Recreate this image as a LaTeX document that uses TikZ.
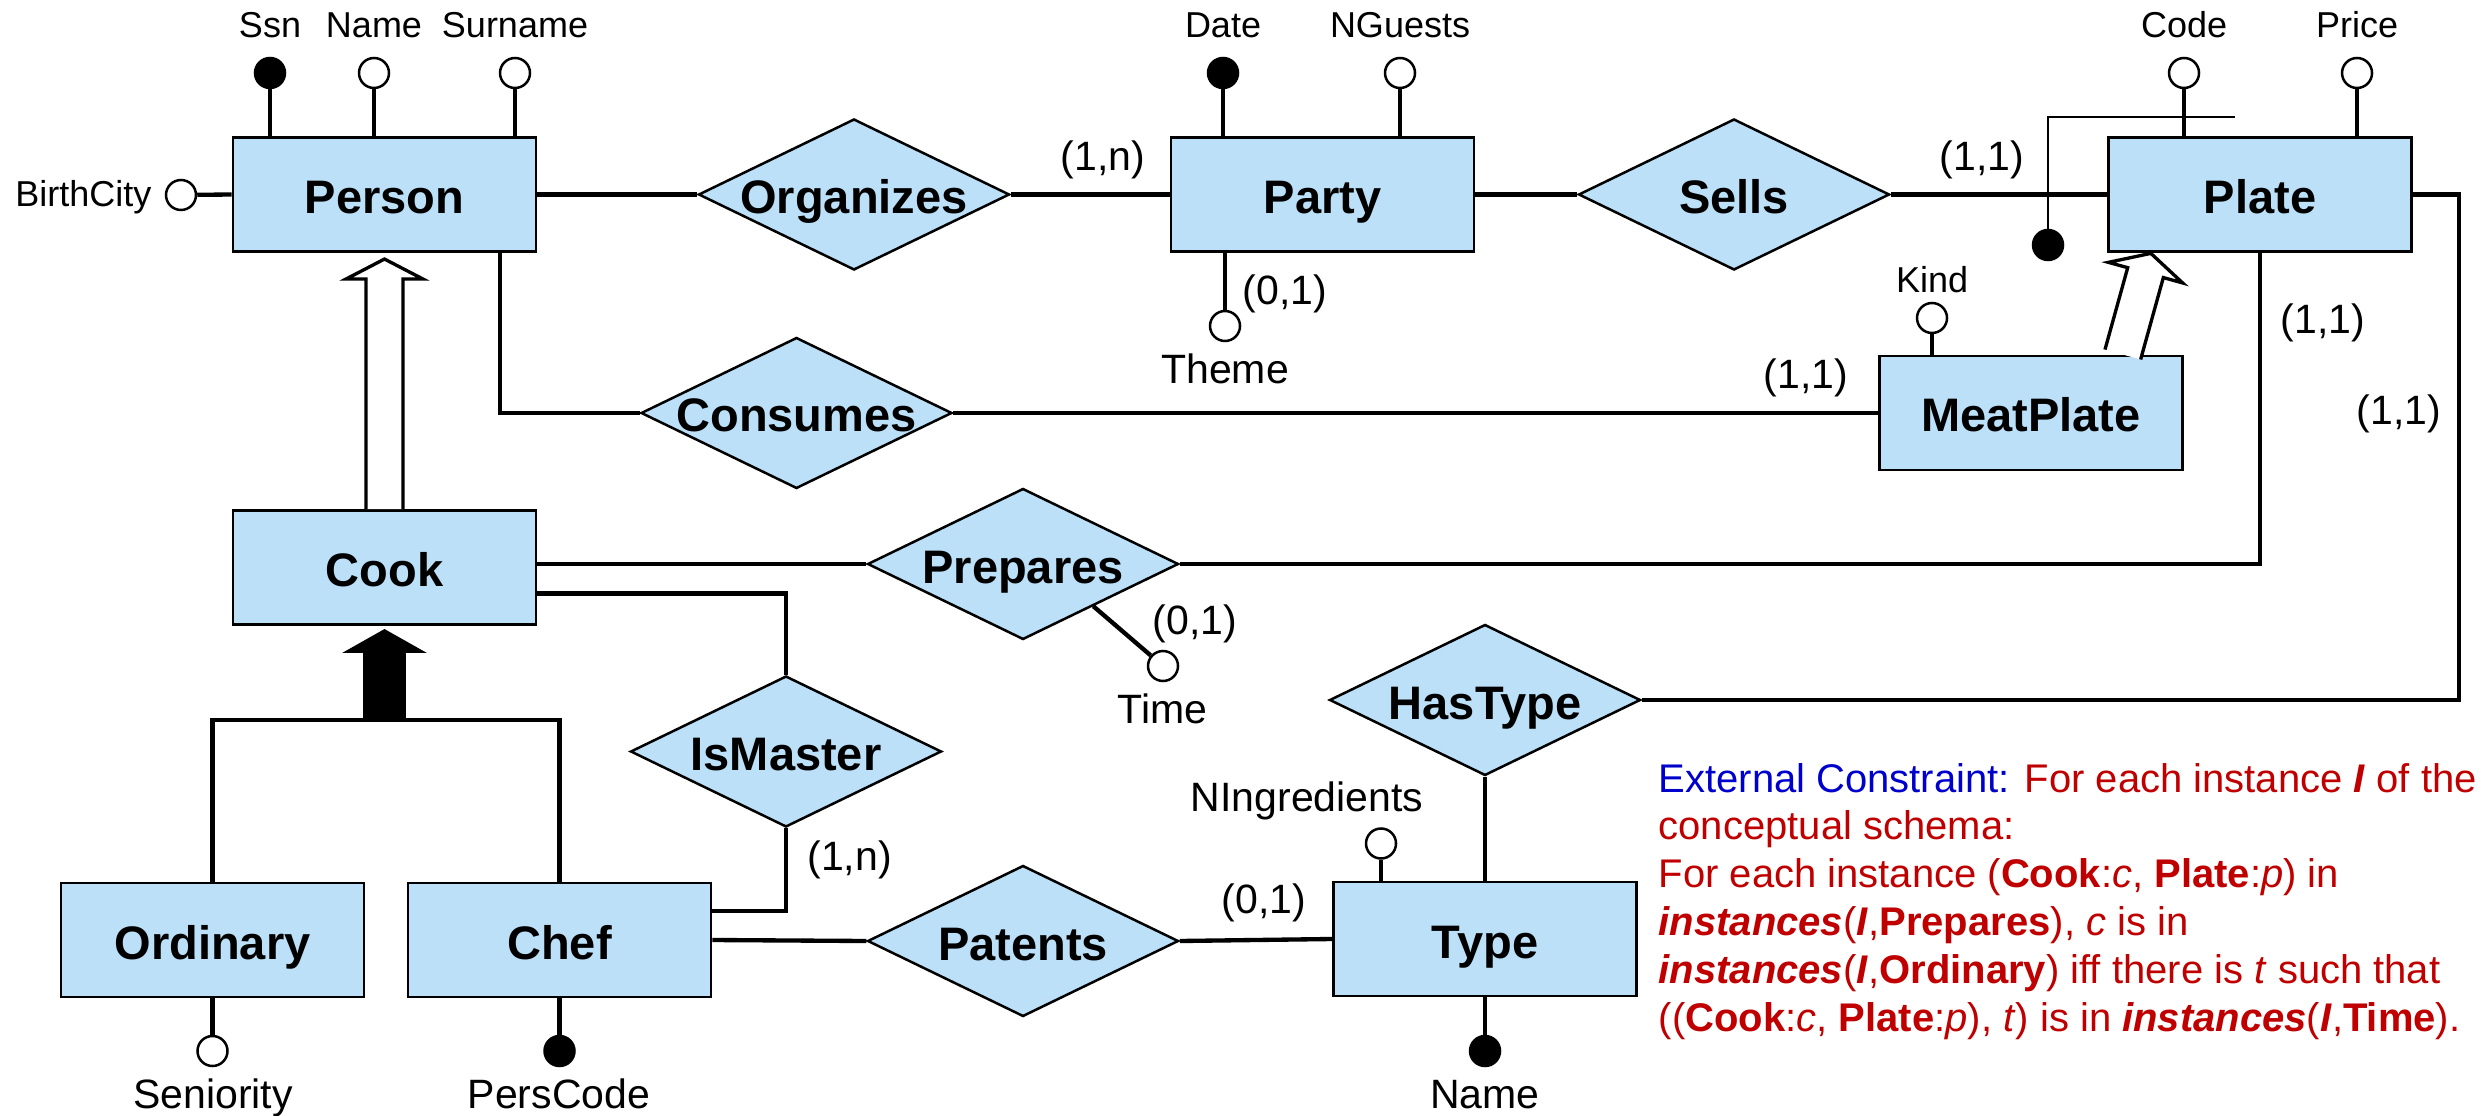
\documentclass[tikz,border=0pt]{standalone}
\usepackage{fontspec}
\setmainfont{Liberation Sans}
\usetikzlibrary{shapes.geometric,calc}
\definecolor{erfill}{RGB}{187,224,248}
\definecolor{cred}{RGB}{192,0,0}
\definecolor{cblue}{RGB}{0,0,204}
\newcommand{\rlabel}[1]{\makebox[0pt]{#1}}

\begin{document}
\begin{tikzpicture}[x=0.3pt,y=-0.3pt,
  ent/.style={draw, fill=erfill, line width=0.87pt, minimum width=90.9pt,
    minimum height=34.2pt, inner sep=0pt,
    font=\fontsize{14.1}{16}\selectfont\bfseries, text height=11.4pt, text depth=0pt},
  rel/.style={diamond, draw, fill=erfill, line width=0.75pt, minimum width=93.3pt,
    minimum height=45.3pt, inner sep=0pt,
    font=\fontsize{14.1}{16}\selectfont\bfseries, text height=11.4pt, text depth=0pt},
  attr/.style={circle, draw, fill=white, line width=0.75pt, minimum size=9pt, inner sep=0pt},
  keyattr/.style={attr, fill=black},
  conn/.style={line width=1.3pt},
  thinln/.style={line width=0.75pt},
  lab/.style={anchor=base, inner sep=0pt, font=\fontsize{10.8}{13}\selectfont},
  labl/.style={anchor=base, inner sep=0pt, font=\fontsize{12.3}{14.8}\selectfont},
  cons/.style={anchor=base west, inner sep=0pt, text=cred, font=\fontsize{12}{14.4}\selectfont},
  isaopen/.pic={\path[pic actions] (-18.5,0) -- (-18.5,-#1) -- (-38.5,-#1) -- (0,-#1-20)
    -- (38.5,-#1) -- (18.5,-#1) -- (18.5,0);},
  isafull/.pic={\path[pic actions] (-20.5,0) -- (-20.5,-#1) -- (-39,-#1) -- (0,-#1-22)
    -- (39,-#1) -- (20.5,-#1) -- (20.5,0);}
]
\useasboundingbox (0,0) rectangle (2483,1116);
\fill[white] (0,0) rectangle (2483,1116);

% ---------- entities ----------
\node[ent] (Person)    at (384.5,194.5) {Person};
\node[ent] (Party)     at (1322.5,194.5) {Party};
\node[ent] (Plate)     at (2260,194.5) {Plate};
\node[ent] (MeatPlate) at (2031,413) {MeatPlate};
\node[ent] (Cook)      at (384.5,567.5) {Cook};
\node[ent] (Ordinary)  at (212.5,940) {Ordinary};
\node[ent] (Chef)      at (559.5,940) {Chef};
\node[ent] (Type)      at (1485,939) {Type};

% ---------- relationships ----------
\node[rel] (Organizes) at (854,194.5) {\rlabel{Organizes}};
\node[rel] (Sells)     at (1734,194.5) {\rlabel{Sells}};
\node[rel] (Consumes)  at (796.5,413) {\rlabel{Consumes}};
\node[rel] (Prepares)  at (1023,564) {\rlabel{Prepares}};
\node[rel] (IsMaster)  at (786,751.5) {\rlabel{IsMaster}};
\node[rel] (Patents)   at (1023,941) {\rlabel{Patents}};
\node[rel] (HasType)   at (1485,700) {\rlabel{HasType}};

% ---------- relationship connectors ----------
\coordinate (pcx) at (500,0);
\coordinate (htx) at (2459,0);
\draw[conn] (Person.east) -- (Organizes.west);
\draw[conn] (Organizes.east) -- (Party.west);
\draw[conn] (Party.east) -- (Sells.west);
\draw[conn] (Sells.east) -- (Plate.west);
\draw[conn] (Person.south -| pcx) |- (Consumes.west);
\draw[conn] (Consumes.east) -- (MeatPlate.west);
\draw[conn] (Cook.east |- Prepares.west) -- (Prepares.west);
\draw[conn] (Prepares.east) -| (Plate.south);
\draw[conn] ($(Cook.east)+(0,26)$) -| (IsMaster.north);
\draw[conn] (IsMaster.south) |- ($(Chef.east)+(0,-29)$);
\draw[conn] (Chef.east) -- (Patents.west);
\draw[conn] (Patents.east) -- (Type.west);
\draw[conn] (HasType.south) -- (Type.north);
\draw[conn] (HasType.east) -| (htx |- Plate.east) -- (Plate.east);

% ---------- generalizations ----------
\pic[draw=black, fill=white, line width=1pt] at (Cook.north) {isaopen=230};
\pic[draw=black, fill=white, line width=1pt, rotate=-15.5]
  at ($(MeatPlate.north west)!0.8!(MeatPlate.north east)$) {isaopen=85};
\coordinate (gj) at (384.5,720);
\draw[conn] (Ordinary.north) |- (gj) -| (Chef.north);
\pic[fill=black, draw=black, line width=0.5pt] at (gj) {isafull=68};

% ---------- attributes ----------
\node[keyattr] (aSsn)     at (270,73) {};
\node[attr]    (aName)    at (374,73) {};
\node[attr]    (aSurname) at (515,73) {};
\node[attr]    (aBirth)   at (181,195) {};
\node[keyattr] (aDate)    at (1223,73) {};
\node[attr]    (aGuests)  at (1400,73) {};
\node[attr]    (aTheme)   at (1225,326) {};
\node[attr]    (aCode)    at (2184,73) {};
\node[attr]    (aPrice)   at (2357,73) {};
\node[attr]    (aKind)    at (1932,318) {};
\node[attr]    (aTime)    at (1163,666) {};
\node[attr]    (aIngr)    at (1381,843.5) {};
\node[attr]    (aSenior)  at (212.5,1051) {};
\node[keyattr] (aPers)    at (559.5,1051) {};
\node[keyattr] (aTName)   at (1485,1051) {};
\node[keyattr] (aExt)     at (2048,245) {};

\draw[conn] (aSsn) -- (aSsn |- Person.north);
\draw[conn] (aName) -- (aName |- Person.north);
\draw[conn] (aSurname) -- (aSurname |- Person.north);
\draw[conn] (aBirth) -- (Person.west);
\draw[conn] (aDate) -- (aDate |- Party.north);
\draw[conn] (aGuests) -- (aGuests |- Party.north);
\draw[conn] (aTheme) -- (aTheme |- Party.south);
\draw[conn] (aCode) -- (aCode |- Plate.north);
\draw[conn] (aPrice) -- (aPrice |- Plate.north);
\draw[conn] (aKind) -- (aKind |- MeatPlate.north);
\draw[conn] (Prepares.-31) -- (aTime);
\draw[conn] (aIngr) -- (aIngr |- Type.north);
\draw[conn] (aSenior) -- (aSenior |- Ordinary.south);
\draw[conn] (aPers) -- (aPers |- Chef.south);
\draw[conn] (aTName) -- (aTName |- Type.south);

% external identifier of Plate
\coordinate (ei1) at (2048,117);
\coordinate (ei2) at (2235,117);
\draw[thinln] (aExt) -- (ei1) -- (ei2);

% ---------- attribute names ----------
\node[lab] (tSsn)     at (270,37.5) {Ssn};
\node[lab] (tName)    at (374,37.5) {Name};
\node[lab] (tSurname) at (515,37.5) {Surname};
\node[lab] (tDate)    at (1223,37.5) {Date};
\node[lab] (tGuests)  at (1400,37.5) {NGuests};
\node[lab] (tCode)    at (2184,37.5) {Code};
\node[lab] (tPrice)   at (2357,37.5) {Price};
\node[lab, anchor=base east] (tBirth) at (152,206.4) {BirthCity};
\node[lab] (tKind)    at (1932,293) {Kind};
\node[labl] (tTheme)  at (1225,384) {Theme};
\node[labl] (tTime)   at (1162.5,723) {Time};
\node[labl] (tIngr)   at (1307,811) {NIngredients};
\node[labl] (tSenior) at (213,1108) {Seniority};
\node[labl] (tPers)   at (559,1108) {PersCode};
\node[labl] (tTName)  at (1485,1108) {Name};

% ---------- cardinalities ----------
\node[labl] (c1) at (1103,171) {(1,n)};
\node[labl] (c2) at (1982,171) {(1,1)};
\node[labl] (c3) at (1285,305) {(0,1)};
\node[labl] (c4) at (1806,389) {(1,1)};
\node[labl] (c5) at (2323,334) {(1,1)};
\node[labl] (c6) at (2399,425) {(1,1)};
\node[labl] (c7) at (1195,634) {(0,1)};
\node[labl] (c8) at (849.5,870) {(1,n)};
\node[labl] (c9) at (1264,913) {(0,1)};

% ---------- external constraint ----------
\node[cons] (k1) at (1658,792) {{\color{cblue}External Constraint:} For each instance \textbf{\textit{I}} of the};
\node[cons] (k2) at (1658,839.8) {conceptual schema:};
\node[cons] (k3) at (1658,887.6) {For each instance (\textbf{Cook}:\textit{c}, \textbf{Plate}:\textit{p}) in};
\node[cons] (k4) at (1658,935.4) {\textbf{\textit{instances}}(\textbf{\textit{I}},\textbf{Prepares}), \textit{c} is in};
\node[cons] (k5) at (1658,983.2) {\textbf{\textit{instances}}(\textbf{\textit{I}},\textbf{Ordinary}) iff there is \textit{t} such that};
\node[cons] (k6) at (1658,1031) {((\textbf{Cook}:\textit{c}, \textbf{Plate}:\textit{p}), \textit{t}) is in \textbf{\textit{instances}}(\textbf{\textit{I}},\textbf{Time}).};
\end{tikzpicture}
\end{document}
